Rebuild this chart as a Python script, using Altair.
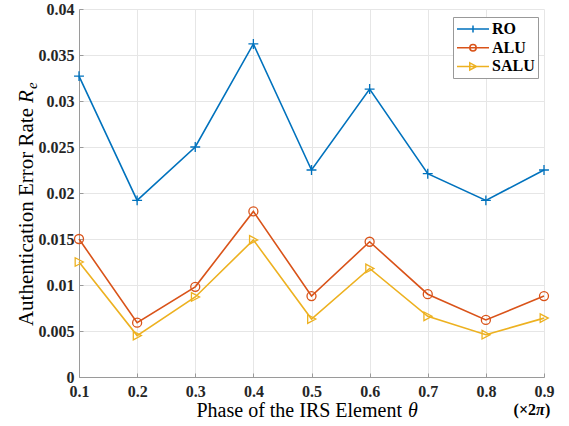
import altair as alt
import pandas as pd

# ---- data ----
phase = [0.1, 0.2, 0.3, 0.4, 0.5, 0.6, 0.7, 0.8, 0.9]
ro = [0.0327, 0.0192, 0.0250, 0.0362, 0.0225, 0.0313, 0.0221, 0.0192, 0.0225]
alu = [0.0150, 0.0059, 0.0098, 0.0180, 0.0088, 0.0147, 0.0090, 0.0062, 0.0088]
salu = [0.0125, 0.0045, 0.0087, 0.0149, 0.0063, 0.0118, 0.0066, 0.0046, 0.0064]
series_names = ["RO", "ALU", "SALU"]
colors = ["#0072BD", "#D95319", "#EDB120"]
x_ticks = [0.1, 0.2, 0.3, 0.4, 0.5, 0.6, 0.7, 0.8, 0.9]
y_ticks = [0, 0.005, 0.01, 0.015, 0.02, 0.025, 0.03, 0.035, 0.04]
y_title_main = "Authentication Error Rate"
y_title_sym = "R"
y_title_sub = "e"
x_title_main = "Phase of the IRS Element"
x_title_sym = "θ"
x_unit_left = "(×2"
x_unit_pi = "π"
x_unit_right = ")"

# marker shapes (plot) and legend symbols (line + marker)
marker_paths = {
    "RO": "M-1.1,0H1.1M0,-1.1V1.1",
    "ALU": "circle",
    "SALU": "M-0.85,-0.95L0.95,0L-0.85,0.95Z",
}
legend_paths = [
    "M-1,0H3M1,-0.45V0.45",
    "M-1,0H3M1.4,0A0.4,0.4,0,1,1,0.6,0A0.4,0.4,0,1,1,1.4,0",
    "M-1,0H3M0.6,-0.45L1.45,0L0.6,0.45Z",
]

rows = []
for name, vals in zip(series_names, [ro, alu, salu]):
    for p, v in zip(phase, vals):
        rows.append({"phase": p, "value": v, "series": name})
df = pd.DataFrame(rows)

FONT = "Liberation Serif"
AXIS_GRAY = "#9a9a9a"

x_enc = alt.X("phase:Q",
              scale=alt.Scale(domain=[0.1, 0.9], nice=False, zero=False),
              axis=alt.Axis(values=x_ticks, format=".1f", title=None,
                            labelFont=FONT, labelFontSize=16, labelFontWeight="bold",
                            labelColor="#262626", labelPadding=10,
                            ticks=True, tickSize={"expr": "-4"}, tickColor=AXIS_GRAY,
                            domainColor=AXIS_GRAY, gridColor="#e6e6e6",
                            labelFlush=False))
y_enc = alt.Y("value:Q",
              scale=alt.Scale(domain=[0, 0.04], nice=False),
              axis=alt.Axis(values=y_ticks, format="~g", title=None,
                            labelFont=FONT, labelFontSize=16, labelFontWeight="bold",
                            labelColor="#262626", labelPadding=9,
                            ticks=True, tickSize={"expr": "-4"}, tickColor=AXIS_GRAY,
                            domainColor=AXIS_GRAY, gridColor="#e6e6e6"))
color_scale = alt.Scale(domain=series_names, range=colors)

base = alt.Chart(df)

lines = base.mark_line(strokeWidth=1.6).encode(
    x=x_enc, y=y_enc,
    color=alt.Color("series:N", scale=color_scale, sort=series_names),
    detail="series:N",
)

point_layers = []
for name in series_names:
    point_layers.append(
        base.transform_filter(alt.datum.series == name)
        .mark_point(shape=marker_paths[name], size=81, filled=False, strokeWidth=1.3, opacity=1)
        .encode(x=x_enc, y=y_enc,
                color=alt.Color("series:N", scale=color_scale, sort=series_names))
    )

legend_layer = base.transform_filter("false").mark_point(
    filled=False, strokeWidth=1.5, size=256, opacity=1
).encode(
    x=x_enc, y=y_enc,
    color=alt.Color("series:N", scale=color_scale, sort=series_names),
    shape=alt.Shape("series:N", scale=alt.Scale(domain=series_names, range=legend_paths),
                    sort=series_names),
)

def text_layer(txt, x, y, angle=0, align="left", size=20, style="normal", weight="normal", baseline="alphabetic"):
    return alt.Chart(pd.DataFrame({"t": [txt]})).mark_text(
        font=FONT, fontSize=size, fontStyle=style, fontWeight=weight,
        align=align, baseline=baseline, angle=angle, color="#000000",
    ).encode(text="t:N", x=alt.value(x), y=alt.value(y))

titles = [
    text_layer(y_title_main, -46, 99, angle=270, align="right", size=21),
    text_layer(y_title_sym, -46, 94, angle=270, align="left", size=21, style="italic"),
    text_layer(y_title_sub, -42, 80, angle=270, align="left", size=15, style="italic"),
    text_layer(x_title_main, 323, 408, align="right", size=20),
    text_layer(x_title_sym, 329, 408, align="left", size=20, style="italic"),
    text_layer(x_unit_left, 457, 406, align="right", size=16, weight="bold"),
    text_layer(x_unit_pi, 457, 406, align="left", size=16, weight="bold", style="italic"),
    text_layer(x_unit_right, 466, 406, align="left", size=16, weight="bold"),
]

chart = alt.layer(lines, *point_layers, legend_layer, *titles).properties(
    width=465, height=368,
    autosize=alt.AutoSizeParams(type="none"),
    padding={"left": 79, "top": 9, "right": 25, "bottom": 49},
    background="white",
).configure_view(stroke=None).configure_legend(
    orient="none", legendX=374, legendY=8, title=None,
    strokeColor="#999999", fillColor="white", padding=3,
    labelFont=FONT, labelFontSize=16, labelFontWeight="bold", labelColor="#000000",
    labelOffset=18, rowPadding=1.7, symbolStrokeWidth=1.5, symbolSize=256,
    cornerRadius=0,
)

chart.save("out.html", embed_options={"renderer": "svg", "actions": False})
